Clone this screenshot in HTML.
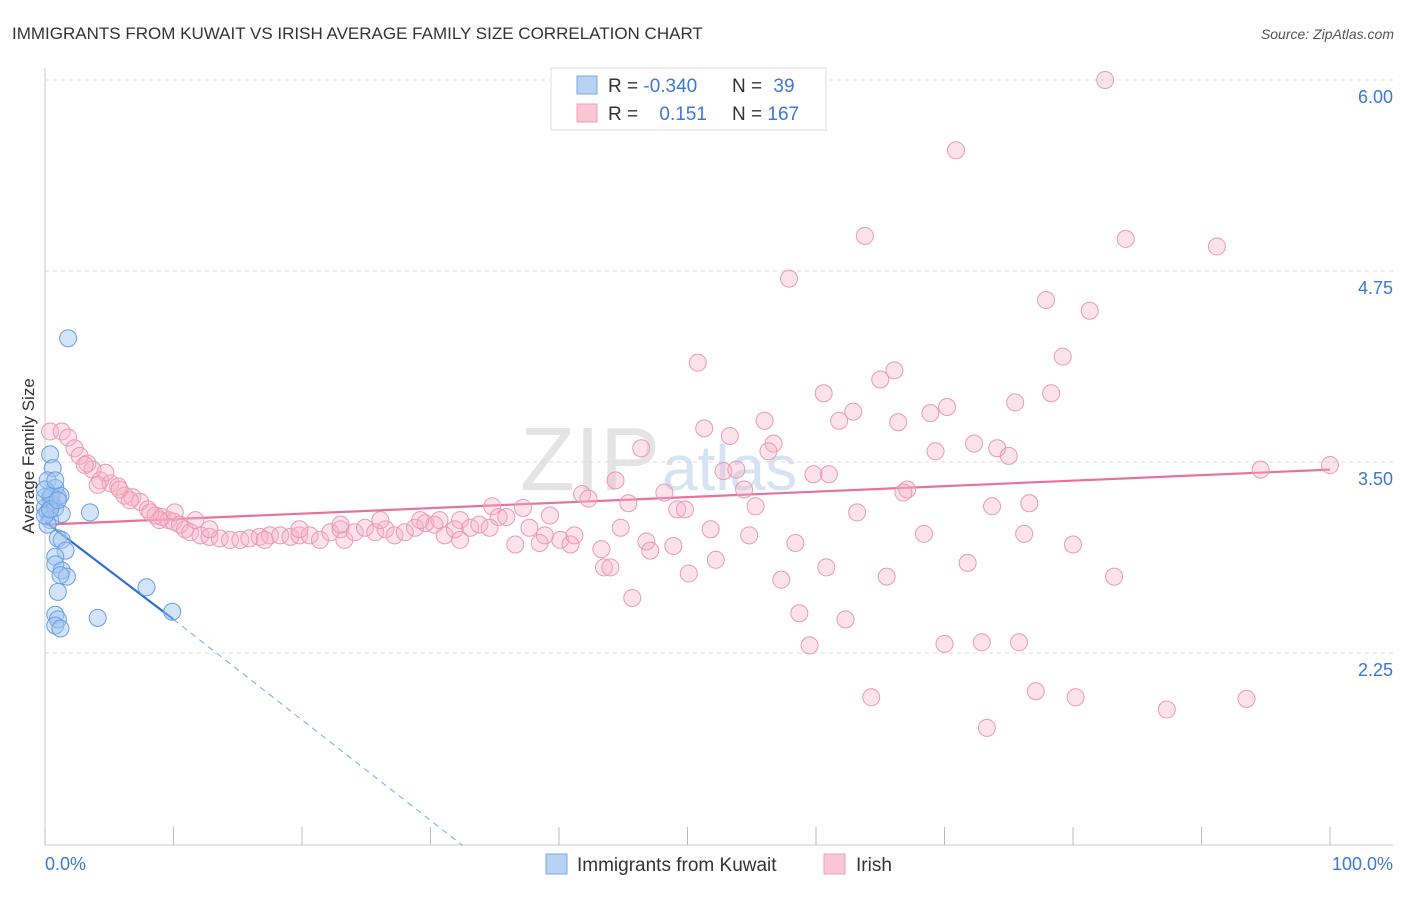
<!DOCTYPE html>
<html><head><meta charset="utf-8"><style>
body{margin:0;background:#fff;font-family:"Liberation Sans",sans-serif;}
svg text{font-family:"Liberation Sans",sans-serif;}
</style></head><body>
<svg id="chart" width="1406" height="892" xmlns="http://www.w3.org/2000/svg">
<text x="12" y="39" font-size="17" fill="#333">IMMIGRANTS FROM KUWAIT VS IRISH AVERAGE FAMILY SIZE CORRELATION CHART</text>
<text x="1394" y="39" font-size="14" fill="#555" font-style="italic" text-anchor="end">Source: ZipAtlas.com</text>
<text x="660" y="490" font-size="90" fill="#e4e4e4" font-family="Liberation Serif" text-anchor="end">ZIP</text>
<text x="662" y="490" font-size="64" fill="#d5e3f3">atlas</text>
<g id="grid"></g>
<g id="axes"></g>
<g id="trends"></g>
<g id="pts"></g>
<text transform="translate(34,456) rotate(-90)" font-size="17" fill="#333" text-anchor="middle">Average Family Size</text>
<g>
<rect x="551" y="68" width="275" height="62" fill="#fff" stroke="#ddd"/>
<rect x="577" y="76" width="20" height="18" fill="#b7d2f3" stroke="#7aa8e0"/>
<rect x="577" y="104" width="20" height="18" fill="#f9c6d5" stroke="#eea0b8"/>
<text x="608" y="92" font-size="19" fill="#333">R = <tspan fill="#3b78d8">-0.340</tspan></text>
<text x="732" y="92" font-size="19" fill="#333">N = <tspan fill="#3b78d8" dx="6">39</tspan></text>
<text x="608" y="120" font-size="19" fill="#333">R = <tspan fill="#3b78d8" dx="16">0.151</tspan></text>
<text x="732" y="120" font-size="19" fill="#333">N = <tspan fill="#3b78d8">167</tspan></text>
</g>
<g>
<rect x="546" y="854" width="21" height="20" fill="#b7d2f3" stroke="#7aa8e0"/>
<text x="577" y="871" font-size="19" fill="#333">Immigrants from Kuwait</text>
<rect x="824" y="854" width="21" height="20" fill="#f9c6d5" stroke="#eea0b8"/>
<text x="856" y="871" font-size="19" fill="#333">Irish</text>
</g>
</svg>
<script>
const yTicks=[2.25,3.5,4.75,6.0];
const yTickLabels=["2.25","3.50","4.75","6.00"];
const xTickCount=10;
const blueX=[1.8,.4,.6,.2,.8,1.0,.4,.5,0,.2,.8,1.3,.4,.2,3.5,1.0,1.3,1.6,.8,.8,1.3,1.7,1.2,1.0,.8,1.0,.8,1.2,4.1,7.9,9.9,0,0,.5,1.2,.4,0,.8,1.0];
const blueY=[4.31,3.55,3.46,3.38,3.33,3.27,3.27,3.22,3.20,3.17,3.20,3.16,3.12,3.09,3.17,3.00,2.99,2.92,2.88,2.83,2.79,2.75,2.76,2.65,2.50,2.47,2.43,2.41,2.48,2.68,2.52,3.27,3.15,3.28,3.28,3.19,3.32,3.38,3.25];
const pinkX=[82.5,70.9,63.8,84.1,91.2,57.9,77.9,81.3,79.2,50.8,65.0,66.1,60.6,78.3,62.9,75.5,70.2,68.9,56.0,61.8,51.3,66.4,53.3,46.4,56.7,69.3,72.3,74.1,75.0,56.3,52.8,53.8,61.0,59.8,94.6,100,44.4,48.2,54.4,41.8,42.3,67.1,66.8,45.4,49.2,49.8,55.3,73.7,76.6,63.2,34.8,37.2,39.3,35.3,35.9,44.8,51.8,68.4,76.2,54.8,43.3,46.8,47.1,48.9,58.4,80.0,52.2,43.5,44.0,71.8,60.8,50.1,65.5,83.2,57.3,45.7,58.7,62.3,59.5,70.0,72.9,75.8,77.1,64.3,80.2,93.5,87.3,73.3,
.4,1.3,1.8,2.3,2.7,3.3,3.7,4.3,5.1,5.7,6.2,6.8,7.4,8.0,8.6,9.1,9.6,10.0,10.5,10.9,11.3,12.1,12.8,13.6,14.4,15.2,15.9,16.7,17.5,18.3,19.1,19.8,20.6,21.4,22.2,23.0,23.3,24.1,24.9,25.7,26.5,27.2,28.0,28.8,29.6,30.3,31.1,31.9,32.3,33.1,33.8,29.2,30.7,26.1,23.0,19.8,17.1,12.8,11.7,10.1,8.9,8.2,6.6,5.8,4.7,4.1,3.1,32.3,34.6,36.6,38.5,40.1,40.9,38.9,37.7,41.2];
const pinkY=[6.00,5.54,4.98,4.96,4.91,4.70,4.56,4.49,4.19,4.15,4.04,4.10,3.95,3.95,3.83,3.89,3.86,3.82,3.77,3.77,3.72,3.76,3.67,3.59,3.62,3.57,3.62,3.59,3.54,3.57,3.44,3.45,3.42,3.42,3.45,3.48,3.38,3.30,3.32,3.29,3.26,3.32,3.30,3.23,3.19,3.19,3.21,3.21,3.23,3.17,3.21,3.20,3.15,3.14,3.14,3.07,3.06,3.03,3.03,3.02,2.93,2.98,2.92,2.95,2.97,2.96,2.86,2.81,2.81,2.84,2.81,2.77,2.75,2.75,2.73,2.61,2.51,2.47,2.30,2.31,2.32,2.32,2.00,1.96,1.96,1.95,1.88,1.76,
3.70,3.70,3.66,3.59,3.54,3.49,3.45,3.38,3.36,3.34,3.28,3.27,3.24,3.19,3.15,3.14,3.12,3.11,3.09,3.06,3.04,3.02,3.01,3.00,2.99,2.99,3.00,3.01,3.02,3.02,3.01,3.02,3.02,2.99,3.04,3.06,2.99,3.04,3.07,3.04,3.06,3.02,3.04,3.07,3.10,3.09,3.02,3.06,3.12,3.07,3.09,3.12,3.12,3.12,3.09,3.06,2.99,3.06,3.12,3.17,3.12,3.17,3.25,3.32,3.43,3.35,3.48,2.99,3.07,2.96,2.97,2.99,2.96,3.02,3.07,3.02];
const blueTrendX=[0,10,32.5];
const blueTrendY=[3.11,2.47,0.99];
const pinkTrendX=[0,100];
const pinkTrendY=[3.09,3.45];

const X0=45,X1=1330,YBOT=845;
const sx=v=>X0+(X1-X0)*v/100;
const sy=v=>462-(v-3.5)*152.8;
const NS="http://www.w3.org/2000/svg";
function mk(tag,attrs,parent){const e=document.createElementNS(NS,tag);for(const k in attrs)e.setAttribute(k,attrs[k]);document.getElementById(parent).appendChild(e);return e;}

yTicks.forEach((t,i)=>{
  const l=mk('line',{x1:45,x2:1393,y1:sy(t),y2:sy(t),stroke:'#ddd','stroke-dasharray':'4,4'},'grid');
  
  
  const tx=mk('text',{x:1393,y:sy(t)+23,'font-size':18,fill:'#3b78d8','text-anchor':'end'},'grid');
  tx.textContent=yTickLabels[i];
  
  
});
const ya=mk('line',{x1:45,x2:45,y1:68,y2:YBOT,stroke:'#ccc'},'axes');


const xa=mk('line',{x1:45,x2:1393,y1:YBOT,y2:YBOT,stroke:'#ccc'},'axes');


for(let i=0;i<=xTickCount;i++){
  const t=mk('line',{x1:sx(i*10),x2:sx(i*10),y1:YBOT-18,y2:YBOT,stroke:'#bbb'},'axes');
  
  
}
const xl0=mk('text',{x:45,y:870,'font-size':18,fill:'#3b78d8'},'axes');xl0.textContent='0.0%';


const xl1=mk('text',{x:1393,y:870,'font-size':18,fill:'#3b78d8','text-anchor':'end'},'axes');xl1.textContent='100.0%';



pinkX.forEach((x,i)=>{
  const c=mk('circle',{cx:sx(x),cy:sy(pinkY[i]),r:8.5,fill:'rgba(246,176,198,0.35)',stroke:'#eb9ab4','stroke-width':1},'pts');
  
  
});
blueX.forEach((x,i)=>{
  const c=mk('circle',{cx:sx(x),cy:sy(blueY[i]),r:8.5,fill:'rgba(160,196,240,0.45)',stroke:'#6c9fe0','stroke-width':1},'pts');
  
  
});
const pt=mk('line',{x1:sx(pinkTrendX[0]),y1:sy(pinkTrendY[0]),x2:sx(pinkTrendX[1]),y2:sy(pinkTrendY[1]),stroke:'#e8739a','stroke-width':2.2},'trends');


const bt=mk('line',{x1:sx(blueTrendX[0]),y1:sy(blueTrendY[0]),x2:sx(blueTrendX[1]),y2:sy(blueTrendY[1]),stroke:'#2f6fd6','stroke-width':2.2},'trends');


const bd=mk('line',{x1:sx(blueTrendX[1]),y1:sy(blueTrendY[1]),x2:sx(blueTrendX[2]),y2:sy(blueTrendY[2]),stroke:'#7aa6e6','stroke-width':1,'stroke-dasharray':'6,5'},'trends');


</script>
</body></html>
